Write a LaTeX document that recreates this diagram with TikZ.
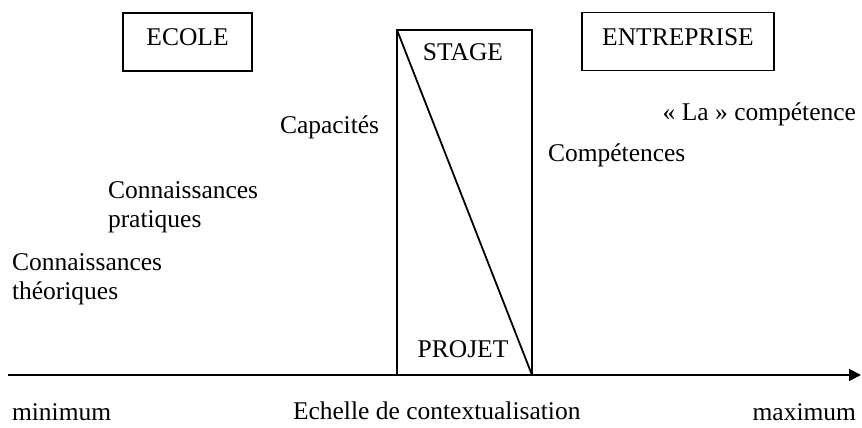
\documentclass[tikz,border=0pt]{standalone}
\usepackage{fontspec}
\setmainfont{Liberation Serif}
\usetikzlibrary{arrows.meta}
\begin{document}
\begin{tikzpicture}[x=0.5pt,y=-0.5pt,
  every node/.style={font=\fontsize{12.75}{14.5}\selectfont, inner sep=0pt, outer sep=0pt},
  box/.style={draw, line width=0.9pt, minimum width=64.5pt, minimum height=29pt},
  lbl/.style={anchor=base west, align=left},
  lble/.style={anchor=base east},
  ctr/.style={anchor=base},
  axisline/.style={line width=0.9pt, -{Triangle[length=6pt,width=6pt]}}]
\useasboundingbox (0,0) rectangle (862,428);
% boxes
\node[box] (ecole) at (187.5,42) {};
\node[ctr] (ecolet) at (187.5,46) {ECOLE};
\node[box, minimum width=96pt] (entr) at (678,41.5) {};
\node[ctr] (entrt) at (678,46) {ENTREPRISE};
% stage rectangle
\node[draw, line width=0.9pt, minimum width=67.5pt, minimum height=172.5pt] (stage) at (464.5,202.5) {};
\draw[line width=0.9pt] (stage.north west) -- (stage.south east);
\node[ctr] (staget) at (463,60) {STAGE};
\node[ctr] (projet) at (463,357) {PROJET};
% labels (multi-line: base = last line)
\node[lbl] (theo) at (12,299) {Connaissances\\théoriques};
\node[lbl] (prat) at (108,227) {Connaissances\\pratiques};
\node[lbl] (capa) at (280,133) {Capacités};
\node[lbl] (compe) at (548,161) {Compétences};
\node[lble] (la) at (856,120) {« La » compétence};
% axis
\coordinate (a0) at (8,375);
\coordinate (a1) at (861,375);
\draw[axisline] (a0) -- (a1);
\node[lbl] (min) at (12,420) {minimum};
\node[lbl] (ech) at (293,419) {Echelle de contextualisation};
\node[lble] (max) at (856,420) {maximum};
\end{tikzpicture}
\end{document}
